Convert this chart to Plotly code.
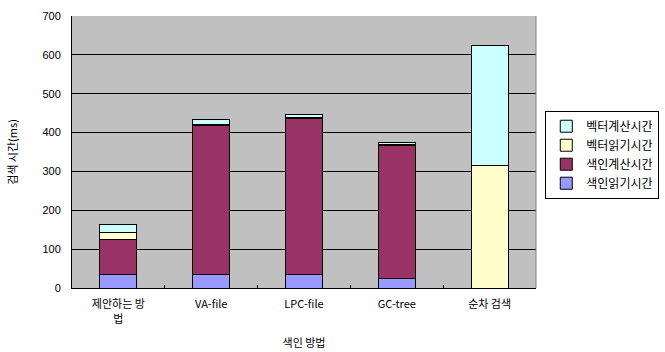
import plotly.graph_objects as go

# Index methods and per-stage search times (ms)
methods = ["제안하는 방<br>법", "VA-file", "LPC-file", "GC-tree", "순차 검색"]
index_read = [35, 35, 35, 25, 0]          # 색인읽기시간
index_calc = [89, 383, 400, 341, 0]       # 색인계산시간
vector_read = [20, 4, 3, 3, 314]          # 벡터읽기시간
vector_calc = [20, 11, 8, 5, 310]         # 벡터계산시간

series = [
    ("색인읽기시간", index_read, "#9999FF"),
    ("색인계산시간", index_calc, "#993366"),
    ("벡터읽기시간", vector_read, "#FFFFCC"),
    ("벡터계산시간", vector_calc, "#CCFFFF"),
]

fig = go.Figure()
for name, vals, color in series:
    fig.add_trace(go.Bar(
        x=methods, y=vals, name=name,
        marker=dict(color=color, line=dict(color="#000000", width=1)),
        width=0.4,
    ))

font_main = "Liberation Sans, Arial, Noto Sans CJK KR"
fig.update_layout(
    barmode="stack",
    width=665, height=352,
    margin=dict(l=72, r=129, t=16, b=64, autoexpand=False),
    paper_bgcolor="#FFFFFF",
    plot_bgcolor="#C0C0C0",
    font=dict(family=font_main, size=11, color="#000000"),
    legend=dict(
        traceorder="reversed",
        x=1.02, xanchor="left", y=0.49, yanchor="middle",
        bgcolor="#FFFFFF", bordercolor="#000000", borderwidth=1,
        font=dict(family="Noto Sans CJK KR", size=12),
        itemwidth=30, tracegroupgap=0,
    ),
    xaxis=dict(
        automargin=False,
        showgrid=False, showline=True, linecolor="#000000", linewidth=1,
        ticks="inside", ticklen=3, tickson="boundaries", tickcolor="#000000",
        ticklabelstandoff=6,
        tickfont=dict(family="Noto Sans CJK KR, Liberation Sans", size=11),
        title=dict(text="색인 방법", font=dict(family="Noto Sans CJK KR", size=11), standoff=14),
        mirror=False,
    ),
    yaxis=dict(
        automargin=False,
        range=[0, 700], dtick=100,
        showgrid=True, gridcolor="#000000", gridwidth=1,
        showline=True, linecolor="#000000", linewidth=1,
        zeroline=False, ticks="",
        ticklabelstandoff=8,
        tickfont=dict(size=11),
        title=dict(text="검색 시간(ms)", font=dict(family="Noto Sans CJK KR", size=11), standoff=22),
    ),
)

# Right-hand border of the plot area
fig.add_shape(type="line", xref="paper", yref="paper", x0=1, x1=1, y0=0, y1=1,
              line=dict(color="#808080", width=1))

fig.write_html("out.html")
